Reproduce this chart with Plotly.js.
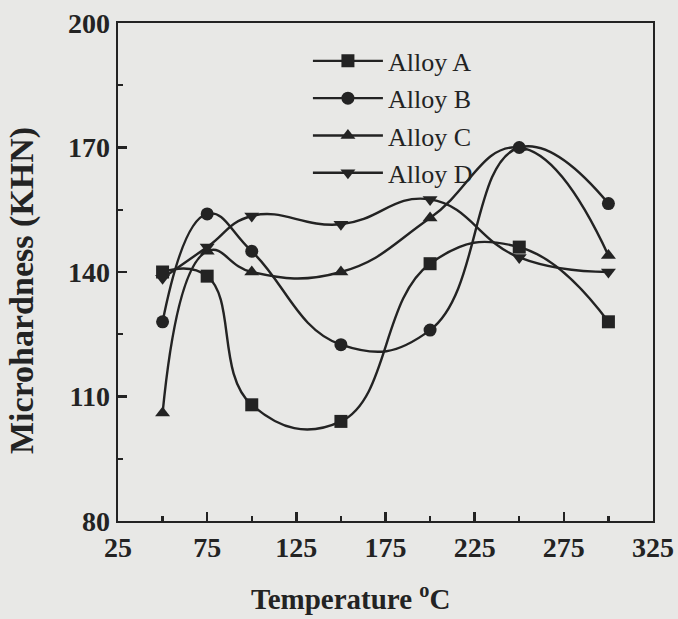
<!DOCTYPE html>
<html>
<head>
<meta charset="utf-8">
<script src="https://cdn.plot.ly/plotly-3.0.1.min.js"></script>
<style>html,body{margin:0;padding:0;background:#e8e8e6;}#chart{width:678px;height:619px;}</style>
</head>
<body>
<div id="chart"></div>
<script>
const temperature = [50, 75, 100, 150, 200, 250, 300];
const alloyA = [140, 139, 108, 104, 142, 146, 128];
const alloyB = [128, 154, 145, 122.5, 126, 170, 156.5];
const alloyC = [106, 145, 140, 140, 153, 170, 144];
const alloyD = [138.5, 146, 153.5, 151.5, 157.5, 143.5, 140];
const seriesNames = ['Alloy A', 'Alloy B', 'Alloy C', 'Alloy D'];
const symbols = ['square', 'circle', 'triangle-up', 'triangle-down'];
const xTicks = [25, 75, 125, 175, 225, 275, 325];
const yTicks = [80, 110, 140, 170, 200];
const xTitle = 'Temperature <sup>o</sup>C';
const yTitle = 'Microhardness (KHN)';

const ink = '#232323';
const font = 'Liberation Serif, Times New Roman, serif';
const allSeries = [alloyA, alloyB, alloyC, alloyD];
const traces = allSeries.map((ys, i) => ({
  x: temperature, y: ys, name: seriesNames[i], type: 'scatter', mode: 'lines+markers',
  legendgroup: 'g' + i,
  line: {shape: 'spline', smoothing: 1.3, color: ink, width: 2.4},
  marker: {symbol: symbols[i], size: 13, color: ink}
}));

const layout = {
  width: 678, height: 619,
  margin: {l: 118, r: 25, t: 23, b: 98},
  paper_bgcolor: '#e8e8e6', plot_bgcolor: '#e8e8e6',
  font: {family: font, color: ink, size: 26},
  showlegend: true,
  legend: {x: 0.355, y: 0.971, xanchor: 'left', yanchor: 'top', bgcolor: 'rgba(0,0,0,0)',
           font: {family: font, size: 26, color: ink}, itemwidth: 70, tracegroupgap: 0.5,
           traceorder: 'grouped'},
  xaxis: {range: [25, 325], tickvals: xTicks, ticktext: xTicks.map(String),
          ticks: 'inside', ticklen: 9, tickwidth: 2.4, tickcolor: ink,
          minor: {tickvals: [50, 100, 150, 200, 250, 300], ticks: 'inside', ticklen: 5, tickwidth: 2.4, tickcolor: ink},
          showline: true, linewidth: 2.4, linecolor: ink, mirror: true, showgrid: false, zeroline: false,
          tickfont: {family: font, size: 28, color: ink, weight: 'bold'}},
  yaxis: {range: [80, 200], tickvals: yTicks, ticktext: yTicks.map(String),
          ticks: 'inside', ticklen: 9, tickwidth: 2.4, tickcolor: ink,
          minor: {tickvals: [95, 125, 155, 185], ticks: 'inside', ticklen: 5, tickwidth: 2.4, tickcolor: ink},
          showline: true, linewidth: 2.4, linecolor: ink, mirror: true, showgrid: false, zeroline: false,
          tickfont: {family: font, size: 28, color: ink, weight: 'bold'}},
  annotations: [
    {text: xTitle, xref: 'paper', yref: 'paper', x: (350 - 118) / 535, y: (521 - 617) / 498,
     xanchor: 'center', yanchor: 'bottom', showarrow: false,
     font: {family: font, size: 29, color: ink, weight: 'bold'}},
    {text: yTitle, xref: 'paper', yref: 'paper', x: (22 - 118) / 535, y: (521 - 291) / 498,
     xanchor: 'center', yanchor: 'middle', showarrow: false, textangle: -90,
     font: {family: font, size: 34, color: ink, weight: 'bold'}}
  ]
};
Plotly.newPlot('chart', traces, layout, {displayModeBar: false, staticPlot: true});
</script>
</body>
</html>
